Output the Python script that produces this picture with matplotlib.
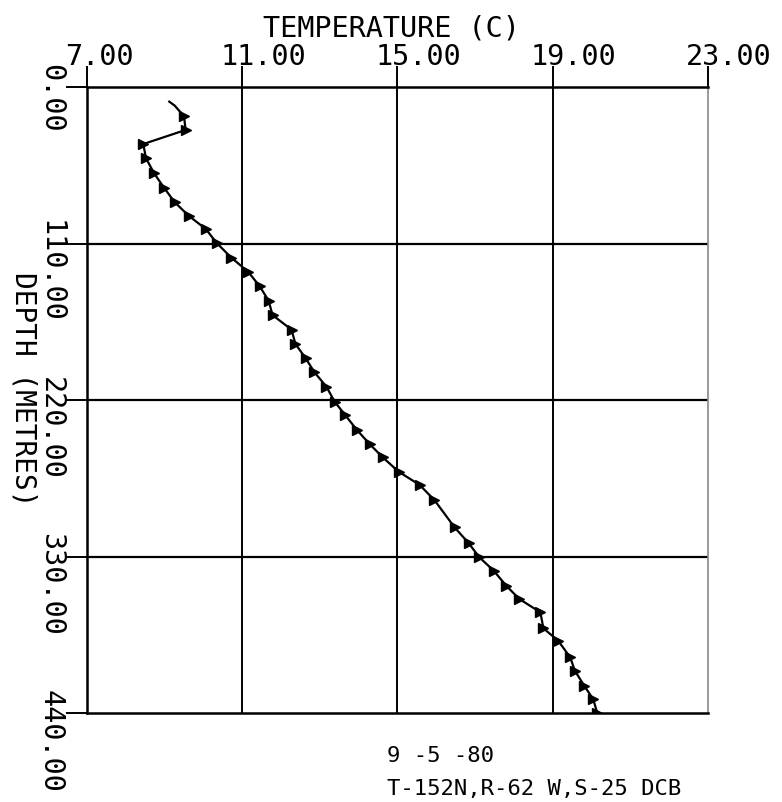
import matplotlib
matplotlib.use('Agg')
import matplotlib.pyplot as plt
from matplotlib.transforms import ScaledTranslation

# temperature profile
temperature = [9.12, 9.26, 9.50, 9.54, 8.45, 8.52, 8.73, 8.99, 9.26, 9.62,
               10.06, 10.34, 10.72, 11.15, 11.45, 11.68, 11.78, 12.27, 12.37, 12.63,
               12.86, 13.17, 13.38, 13.65, 13.95, 14.28, 14.62, 15.03, 15.57, 15.95,
               16.47, 16.83, 17.11, 17.48, 17.80, 18.14, 18.68, 18.76, 19.14, 19.45,
               19.57, 19.81, 20.04, 20.15]
depth = [10.3, 13.1, 20.6, 30.2, 40.1, 50.1, 60.7, 71.0, 81.0, 90.5,
         99.8, 109.6, 120.0, 129.8, 140.1, 150.2, 160.3, 170.6, 180.6, 190.5,
         200.5, 210.7, 221.2, 230.5, 240.9, 250.9, 260.3, 270.4, 279.7, 290.3,
         309.5, 320.5, 330.6, 340.0, 350.5, 359.9, 369.2, 380.5, 389.2, 400.9,
         410.3, 420.8, 430.2, 440.2]

x_ticks = [7, 11, 15, 19, 23]
x_labels = ['7.00', '11.00', '15.00', '19.00', '23.00']
y_ticks = [0, 110, 220, 330, 440]
y_labels = ['0.00', '110.00', '220.00', '330.00', '440.00']

font = 'DejaVu Sans Mono'

fig = plt.figure(figsize=(7.82, 8.03), dpi=100)
ax = fig.add_axes([87 / 782, 1 - 714 / 803, 621 / 782, 626 / 803])

ax.set_xlim(7, 23)
ax.set_ylim(440, 0)

# grid
for xv in x_ticks[1:-1]:
    ax.axvline(xv, color='black', lw=1.4, zorder=1)
for yv in y_ticks[1:-1]:
    ax.axhline(yv, color='black', lw=1.6, zorder=1)

ax.plot(temperature, depth, color='black', lw=1.6, zorder=3)
ax.plot(temperature[2:], depth[2:], ls='none', marker='>', ms=6.5,
        color='black', zorder=4)

for side in ['top', 'left', 'bottom']:
    ax.spines[side].set_linewidth(1.8)
ax.spines['right'].set_linewidth(1.2)
ax.spines['right'].set_color('#888888')

ax.xaxis.tick_top()
ax.set_xticks(x_ticks)
ax.set_yticks(y_ticks)
ax.set_xticklabels([])
ax.set_yticklabels([])
ax.tick_params(axis='x', direction='out', length=15, width=1.4, top=True, bottom=False)
ax.tick_params(axis='y', direction='out', length=15, width=1.4, left=True, right=False)

# top tick labels: start 1.5 chars left of the tick
xt = ax.get_xaxis_transform()
for xv, lab in zip(x_ticks, x_labels):
    ax.text(xv, 1, lab, transform=xt + ScaledTranslation(-0.22, 0.23, fig.dpi_scale_trans),
            ha='left', va='baseline', fontsize=20.5, family=font, clip_on=False)

ax.text((391 - 87) / 621, 1, 'TEMPERATURE (C)',
        transform=ax.transAxes + ScaledTranslation(0, 0.51, fig.dpi_scale_trans),
        ha='center', va='baseline', fontsize=20.5, family=font, clip_on=False)

# left tick labels, rotated to read downwards
yt = ax.get_yaxis_transform()
for yv, lab in zip(y_ticks, y_labels):
    ax.text(0, yv, lab, transform=yt + ScaledTranslation(-0.36, 0.24, fig.dpi_scale_trans),
            rotation=-90, rotation_mode='anchor', ha='left', va='center',
            fontsize=20.5, family=font, clip_on=False)

ax.text(0, 212, 'DEPTH (METRES)', transform=yt + ScaledTranslation(-0.64, 0, fig.dpi_scale_trans),
        rotation=-90, rotation_mode='anchor', ha='center', va='center',
        fontsize=20, family=font, clip_on=False)

fig.text(387 / 782, 1 - 762 / 803, '9 -5 -80', fontsize=16, family=font)
fig.text(387 / 782, 1 - 795 / 803, 'T-152N,R-62 W,S-25 DCB', fontsize=16, family=font)

fig.savefig('out.png', dpi=100)
